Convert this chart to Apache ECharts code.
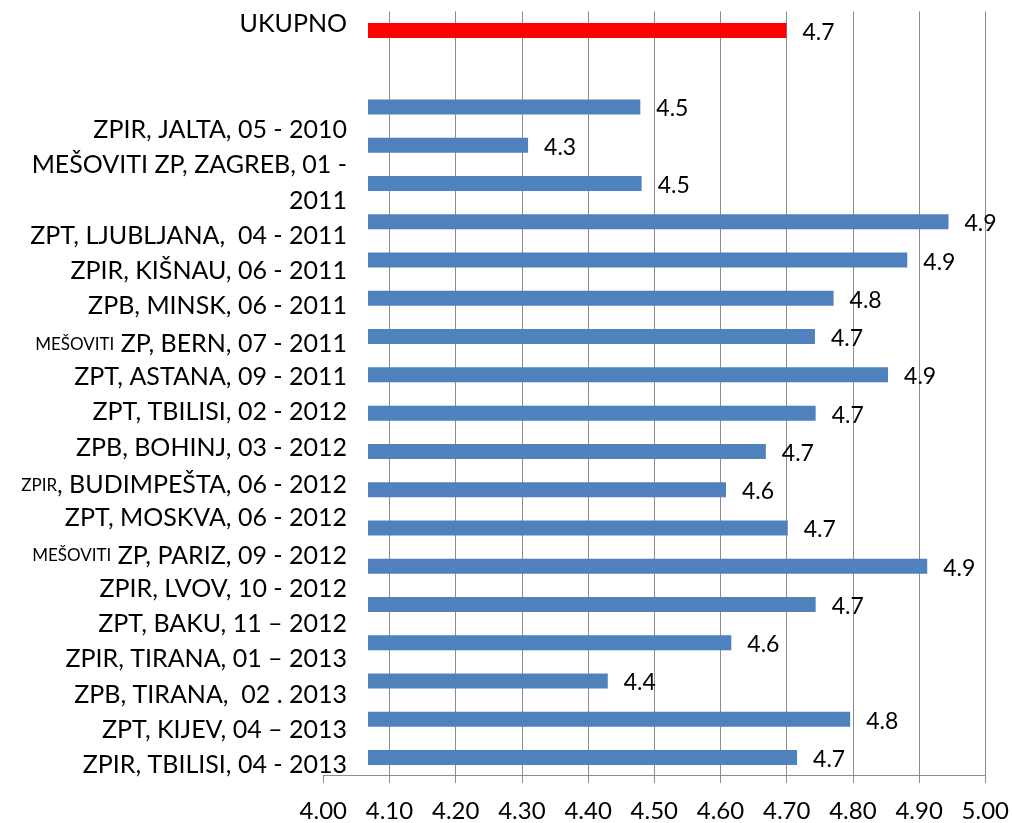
<!DOCTYPE html>
<html>
<head>
<meta charset="utf-8">
<script src="https://cdn.jsdelivr.net/npm/echarts@6/dist/echarts.min.js"></script>
<style>
  html, body { margin: 0; padding: 0; background: #fff; }
  #chart { width: 1012px; height: 823px; }
</style>
</head>
<body>
<div id="chart"></div>
<script>
'use strict';
// ---- data ---------------------------------------------------------------- //
const totalLabel = 'UKUPNO';
const totalValue = 4.698;
const categories = [
  'ZPIR, JALTA, 05 - 2010',
  'MEŠOVITI ZP, ZAGREB, 01 -\n2011',
  'ZPT, LJUBLJANA,  04 - 2011',
  'ZPIR, KIŠNAU, 06 - 2011',
  'ZPB, MINSK, 06 - 2011',
  'MEŠOVITI ZP, BERN, 07 - 2011',
  'ZPT, ASTANA, 09 - 2011',
  'ZPT, TBILISI, 02 - 2012',
  'ZPB, BOHINJ, 03 - 2012',
  'ZPIR, BUDIMPEŠTA, 06 - 2012',
  'ZPT, MOSKVA, 06 - 2012',
  'MEŠOVITI ZP, PARIZ, 09 - 2012',
  'ZPIR, LVOV, 10 - 2012',
  'ZPT, BAKU, 11 – 2012',
  'ZPIR, TIRANA, 01 – 2013',
  'ZPB, TIRANA,  02 . 2013',
  'ZPT, KIJEV, 04 – 2013',
  'ZPIR, TBILISI, 04 - 2013',
];
const values = [4.478, 4.309, 4.480, 4.942, 4.880, 4.769, 4.741, 4.851, 4.742,
                4.667, 4.607, 4.700, 4.910, 4.742, 4.615, 4.429, 4.794, 4.714];
// labels whose first word is set in small type
const smallLead = ['MEŠOVITI ZP, BERN, 07 - 2011', 'ZPIR, BUDIMPEŠTA, 06 - 2012', 'MEŠOVITI ZP, PARIZ, 09 - 2012'];
const xTicks = { min: 4.0, max: 5.0, step: 0.1 };
const barBase = 4.068;   // bars start here, not at the axis min

// ---- build --------------------------------------------------------------- //
const FONT = 'Lato';
const BLUE = '#4f81bd', RED = '#ff0000', GRID = '#8c8c8c';

const barCats = [totalLabel, ''].concat(categories);
const barData = [{ value: totalValue, itemStyle: { color: RED } }, { value: null }]
  .concat(values.map((v) => ({ value: v })));

// the text column is laid out as lines (the wrapped label takes two)
const lines = [totalLabel, '', ''].concat(categories.flatMap((c) => c.split('\n')));
const fmtLine = (s) => {
  if (!smallLead.includes(s)) return s;
  const i = s.indexOf(s.startsWith('ZPIR') ? ',' : ' ');
  return '{s|' + s.slice(0, i) + '}{n|' + s.slice(i) + '}';
};

const chart = echarts.init(document.getElementById('chart'));
chart.setOption({
  animation: false,
  textStyle: { fontFamily: FONT },
  grid: [
    { left: 323.3, right: 25, top: 11.4, bottom: 46 },        // axis + gridlines
    { left: 368, right: 25, top: 11.4, bottom: 46.4 },        // bars
    { left: 355, width: 1, top: 6.4, bottom: 40.2 },          // label column
  ],
  xAxis: [
    {
      gridIndex: 0, type: 'value', min: xTicks.min, max: xTicks.max, interval: xTicks.step,
      axisLine: { show: true, lineStyle: { color: GRID, width: 1 } },
      axisTick: { show: true, length: 8, lineStyle: { color: GRID, width: 1 } },
      splitLine: { show: true, showMinLine: false, lineStyle: { color: GRID, width: 1 } },
      axisLabel: { color: '#000', fontSize: 24, margin: 24, formatter: (v) => v.toFixed(2) },
    },
    { gridIndex: 1, type: 'value', min: barBase, max: xTicks.max, show: false },
    { gridIndex: 2, type: 'value', show: false },
  ],
  yAxis: [
    { gridIndex: 0, type: 'category', data: barCats, show: false },
    { gridIndex: 1, type: 'category', data: barCats, inverse: true, show: false },
    {
      gridIndex: 2, type: 'category', data: lines, inverse: true,
      axisLine: { show: false }, axisTick: { show: false }, splitLine: { show: false },
      axisLabel: {
        interval: 0, margin: 8, color: '#000', fontSize: 25, formatter: fmtLine,
        rich: {
          s: { fontSize: 17, verticalAlign: 'bottom', padding: [0, 0, 4, 0], color: '#000', fontFamily: FONT },
          n: { fontSize: 25, lineHeight: 30, verticalAlign: 'bottom', color: '#000', fontFamily: FONT },
        },
      },
    },
  ],
  series: [{
    type: 'bar', xAxisIndex: 1, yAxisIndex: 1, barWidth: 15,
    itemStyle: { color: BLUE },
    label: {
      show: true, position: 'right', distance: 16, color: '#000', fontSize: 23,
      offset: [0, 2], formatter: (p) => p.value == null ? '' : p.value.toFixed(1),
    },
    data: barData,
  }],
});
</script>
</body>
</html>
